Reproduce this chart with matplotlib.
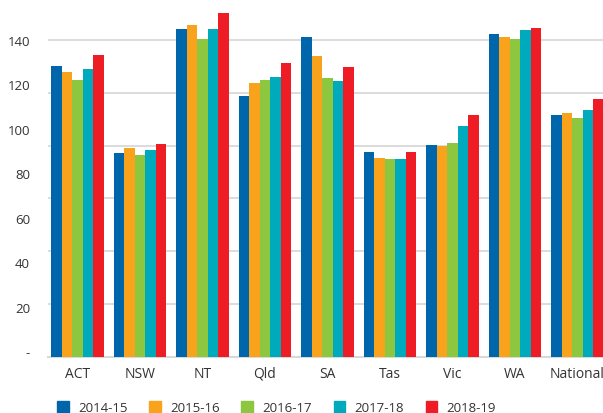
import numpy as np
import matplotlib
matplotlib.use('Agg')
import matplotlib.pyplot as plt
from matplotlib.patches import Rectangle

plt.rcParams['font.family'] = ['Open Sans', 'DejaVu Sans']

regions = ['ACT', 'NSW', 'NT', 'Qld', 'SA', 'Tas', 'Vic', 'WA', 'National']
years = ['2014-15', '2015-16', '2016-17', '2017-18', '2018-19']
colors = ['#0066AB', '#F8A31B', '#8DC63F', '#00AABD', '#EE1C25']

v_1415 = [131.0, 91.8, 147.7, 117.5, 144.1, 92.3, 95.5, 145.4, 109.0]
v_1516 = [128.3, 94.1, 149.5, 123.4, 135.5, 89.6, 95.0, 144.1, 109.9]
v_1617 = [124.7, 90.9, 143.2, 124.7, 125.6, 89.1, 96.4, 143.2, 107.6]
v_1718 = [129.7, 93.2, 147.7, 126.1, 124.3, 89.1, 104.0, 147.2, 111.2]
v_1819 = [136.0, 95.9, 154.9, 132.4, 130.6, 92.3, 109.0, 148.1, 116.2]
series = [v_1415, v_1516, v_1617, v_1718, v_1819]

tick_vals = [0, 20, 40, 60, 80, 100, 120, 140]
tick_text = ['-', '20', '40', '60', '80', '100', '120', '140']

W, H = 603, 413
fig = plt.figure(figsize=(W / 100, H / 100), dpi=100)
ax = fig.add_axes([48 / W, (H - 357) / H, (W - 48) / W, 357 / H])

x = np.arange(len(regions))
bw = 0.168
for j, vals in enumerate(series):
    ax.bar(x + (j - 2) * bw, vals, width=bw, color=colors[j], zorder=3)

ax.set_xlim(-0.472, 8.408)
ax.set_ylim(0, 357 / 2.221)

# gridlines (don't line up with the labels in the original)
grid_step = 317 / 6 / 2.221
ax.set_yticks(np.arange(1, 7) * grid_step)
ax.set_yticklabels([])
ax.yaxis.grid(True, color='#D9D9D9', linewidth=1.3, zorder=0)
ax.set_yticks([t + 2.25 for t in tick_vals], minor=True)
ax.set_yticklabels(tick_text, minor=True)
ax.tick_params(axis='y', which='both', length=0, pad=13, labelsize=9.5, labelcolor='#333333')

ax.set_xticks(x)
ax.set_xticklabels(regions)
ax.tick_params(axis='x', length=0, pad=7, labelsize=10, labelcolor='#333333')

for s in ['top', 'right', 'left']:
    ax.spines[s].set_visible(False)
ax.spines['bottom'].set_color('#D9D9D9')
ax.spines['bottom'].set_linewidth(1.5)

# legend along the bottom edge
for j, yr in enumerate(years):
    x0 = 57 + 92.2 * j
    fig.add_artist(Rectangle((x0 / W, 0), 11.5 / W, (H - 401) / H,
                             transform=fig.transFigure, color=colors[j]))
    fig.text((x0 + 21) / W, (H - 408) / H, yr, fontsize=9.5, color='#333333', va='center')

fig.savefig('out.png', dpi=100)
